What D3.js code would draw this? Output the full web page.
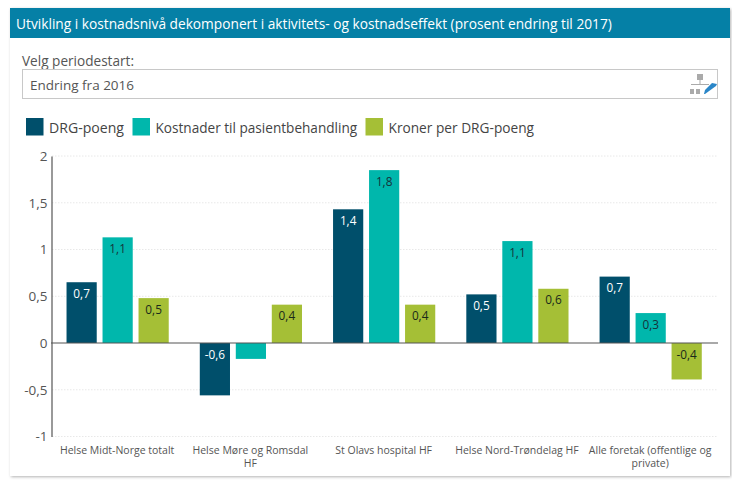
<!DOCTYPE html>
<html><head><meta charset="utf-8">
<script src="https://cdn.jsdelivr.net/npm/d3@7/dist/d3.min.js"></script>
<style>html,body{margin:0;padding:0;background:#fff}svg{display:block}</style>
</head><body><svg id="c" width="732" height="480"></svg>
<script>
const categories=[["Helse Midt-Norge totalt"],["Helse Møre og Romsdal","HF"],["St Olavs hospital HF"],["Helse Nord-Trøndelag HF"],["Alle foretak (offentlige og","private)"]];
const seriesNames=["DRG-poeng","Kostnader til pasientbehandling","Kroner per DRG-poeng"];
const drg=[0.65,-0.56,1.43,0.52,0.71];
const kost=[1.13,-0.17,1.849,1.09,0.32];
const kroner=[0.48,0.41,0.41,0.58,-0.39];
const yTicks=[2,1.5,1,0.5,0,-0.5,-1];
const colors=["#004f6b","#00b7ac","#a5bf36"];
const labelColors=["#fff","#16323a","#1a2a1a"];
const FONT="'Open Sans',sans-serif";
const title="Utvikling i kostnadsnivå dekomponert i aktivitets- og kostnadseffekt (prosent endring til 2017)";
const svg=d3.select("#c").style("font-family",FONT);
const defs=svg.append("defs");
const f=defs.append("filter").attr("id","sh").attr("x","-5%").attr("y","-5%").attr("width","110%").attr("height","110%");
f.append("feDropShadow").attr("dx",1).attr("dy",1).attr("stdDeviation",1.5).attr("flood-color","#000").attr("flood-opacity",0.3);
svg.append("rect").attr("x",10).attr("y",8).attr("width",720).attr("height",468).attr("fill","#fff").attr("filter","url(#sh)");
svg.append("rect").attr("x",10).attr("y",8).attr("width",720).attr("height",30).attr("fill","#0580a6");
svg.append("text").attr("x",16).attr("y",29).attr("fill","#fff").attr("font-size",13.73).text(title);
svg.append("text").attr("x",22).attr("y",66).attr("fill","#555").attr("font-size",13.6).text("Velg periodestart:");
svg.append("rect").attr("x",22.5).attr("y",69.5).attr("width",695).attr("height",29).attr("fill","#fff").attr("stroke","#c8c8c8");
svg.append("text").attr("x",30).attr("y",90).attr("fill","#555").attr("font-size",13.5).text("Endring fra 2016");
// hierarchy icon
const ic=svg.append("g").attr("fill","#aaa");
ic.append("rect").attr("x",697).attr("y",74).attr("width",6).attr("height",6);
ic.append("rect").attr("x",699.5).attr("y",80).attr("width",1).attr("height",4);
ic.append("rect").attr("x",691).attr("y",84).attr("width",18).attr("height",1);
ic.append("rect").attr("x",690).attr("y",89).attr("width",4).attr("height",5);
ic.append("rect").attr("x",696).attr("y",89).attr("width",4).attr("height",5);
svg.append("path").attr("d","M705 94 L704 94 L705 90 L712 83 L717 84 L716 86 Z").attr("fill","#2a86c8");
// legend
const legX=[26,132.5,365.5];
const legSize=[14.1,13.6,13.7];
seriesNames.forEach((n,i)=>{
  svg.append("rect").attr("x",legX[i]).attr("y",118).attr("width",17.5).attr("height",17.5).attr("fill",colors[i]);
  svg.append("text").attr("x",legX[i]+23).attr("y",133).attr("fill","#444").attr("font-size",legSize[i]).text(n);
});
// chart
const y=d3.scaleLinear().domain([-1,2]).range([436.5,156]);
const x0=d3.scaleBand().domain(d3.range(categories.length)).range([51,717.3]);
const bw=30.2, step=36, groupW=2*step+bw;
const barX=(g,s)=>x0(g)+x0.bandwidth()/2-groupW/2+s*step;
const g=svg.append("g");
yTicks.filter(t=>t!==0).forEach(t=>{
  g.append("line").attr("x1",52).attr("x2",718).attr("y1",y(t)).attr("y2",y(t)).attr("stroke","#e8e8e8").attr("stroke-dasharray","1.5 1.5");
});
const yAxis=d3.axisLeft(y).tickValues(yTicks).tickSize(0).tickPadding(4).tickFormat(d=>String(d).replace(".",","));
const ya=svg.append("g").attr("transform","translate(51.5,0)").call(yAxis);
ya.select(".domain").attr("stroke","#555").attr("stroke-width",1.2);
ya.selectAll("text").attr("font-size",13.5).attr("fill","#555").attr("font-family",FONT);
const xlab=svg.append("g");
categories.forEach((c,i)=>{
  c.forEach((l,j)=>xlab.append("text").attr("x",x0(i)+x0.bandwidth()/2-0.5).attr("y",453.5+j*13.5).attr("text-anchor","middle").attr("font-size",10.5).attr("fill","#555").text(l));
});
[drg,kost,kroner].forEach((vals,s)=>{
  const rows=vals.map((v,i)=>({v,i}));
  g.selectAll(".b"+s).data(rows).join("rect").attr("x",d=>barX(d.i,s)).attr("width",bw)
   .attr("y",d=>y(Math.max(d.v,0))).attr("height",d=>Math.abs(y(d.v)-y(0))).attr("fill",colors[s]);
  g.selectAll(".l"+s).data(rows.filter(d=>Math.abs(y(d.v)-y(0))>=25)).join("text")
   .attr("x",d=>barX(d.i,s)+bw/2).attr("y",d=>d.v>=0?y(d.v)+15.5:y(0)+15.5)
   .attr("text-anchor","middle").attr("font-size",11.8).attr("fill",labelColors[s])
   .text(d=>d.v.toFixed(1).replace(".",","));
});
svg.append("line").attr("x1",51).attr("x2",718).attr("y1",y(0)).attr("y2",y(0)).attr("stroke","#555").attr("stroke-width",1.2);
</script></body></html>
